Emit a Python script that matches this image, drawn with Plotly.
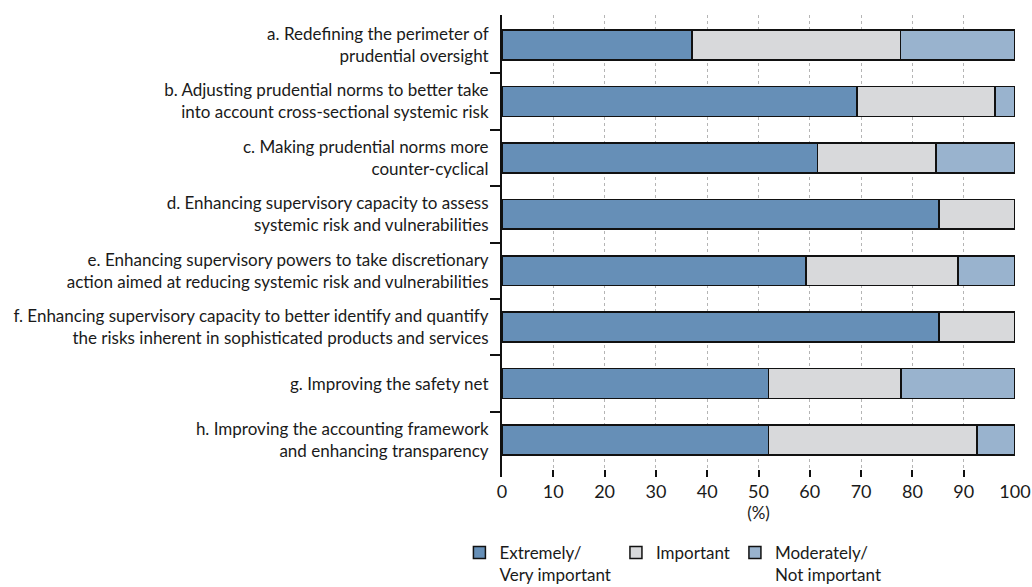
import plotly.graph_objects as go

categories = [
    "a. Redefining the perimeter of<br>prudential oversight",
    "b. Adjusting prudential norms to better take<br>into account cross-sectional systemic risk",
    "c. Making prudential norms more<br>counter-cyclical",
    "d. Enhancing supervisory capacity to assess<br>systemic risk and vulnerabilities",
    "e. Enhancing supervisory powers to take discretionary<br>action aimed at reducing systemic risk and vulnerabilities",
    "f. Enhancing supervisory capacity to better identify and quantify<br>the risks inherent in sophisticated products and services",
    "g. Improving the safety net",
    "h. Improving the accounting framework<br>and enhancing transparency",
]
extremely = [37.0, 69.2, 61.5, 85.2, 59.3, 85.2, 51.9, 51.9]
important = [40.7, 26.9, 23.1, 14.8, 29.6, 14.8, 25.9, 40.7]
moderately = [22.2, 3.8, 15.4, 0.0, 11.1, 0.0, 22.2, 7.4]
series_names = ["Extremely/<br>Very important", "Important", "Moderately/<br>Not important"]
x_ticks = [0, 10, 20, 30, 40, 50, 60, 70, 80, 90, 100]

colors = ["#668fb7", "#d8d9db", "#99b3ce"]
FONT = "Lato"
ypos = list(range(len(categories)))

fig = go.Figure()
for name, vals, col in zip(series_names, [extremely, important, moderately], colors):
    fig.add_trace(go.Bar(
        y=ypos, x=vals, name=name, orientation="h",
        marker=dict(color=col, line=dict(color="#111111", width=1.5)),
        width=0.53,
    ))

fig.update_layout(
    barmode="stack",
    width=1032, height=587,
    margin=dict(l=502, r=17, t=15, b=110, autoexpand=False),
    paper_bgcolor="white", plot_bgcolor="white",
    font=dict(family=FONT, size=17, color="#1a1a1a"),
    showlegend=True,
    legend=dict(
        orientation="h", x=-0.083, xanchor="left", y=-0.1255, yanchor="top",
        valign="top", font=dict(size=17), traceorder="normal",
        itemclick=False,
    ),
)
fig.update_xaxes(
    range=[0, 100], tickvals=x_ticks, ticktext=[str(v) for v in x_ticks],
    ticks="inside", ticklen=7, tickwidth=2, tickcolor="#111111",
    showline=False, zeroline=False,
    showgrid=True, gridcolor="#b5b5b5", gridwidth=1, griddash="dot",
    tickfont=dict(size=18), ticklabelstandoff=2,
    title=dict(text="(%)", standoff=4, font=dict(size=17)),
)
fig.update_yaxes(
    range=[7.656, -0.532], tickvals=ypos, ticktext=categories,
    ticks="", showgrid=False, zeroline=False,
    showline=True, linecolor="#111111", linewidth=2,
    ticklabelstandoff=8,
    minor=dict(tickvals=[i + 0.5 for i in range(len(categories) - 1)],
               ticks="outside", ticklen=10, tickwidth=1.5, tickcolor="#111111",
               showgrid=False),
)

fig.write_html("out.html", config={"displayModeBar": False},
               post_script="document.body.style.margin='0';")
